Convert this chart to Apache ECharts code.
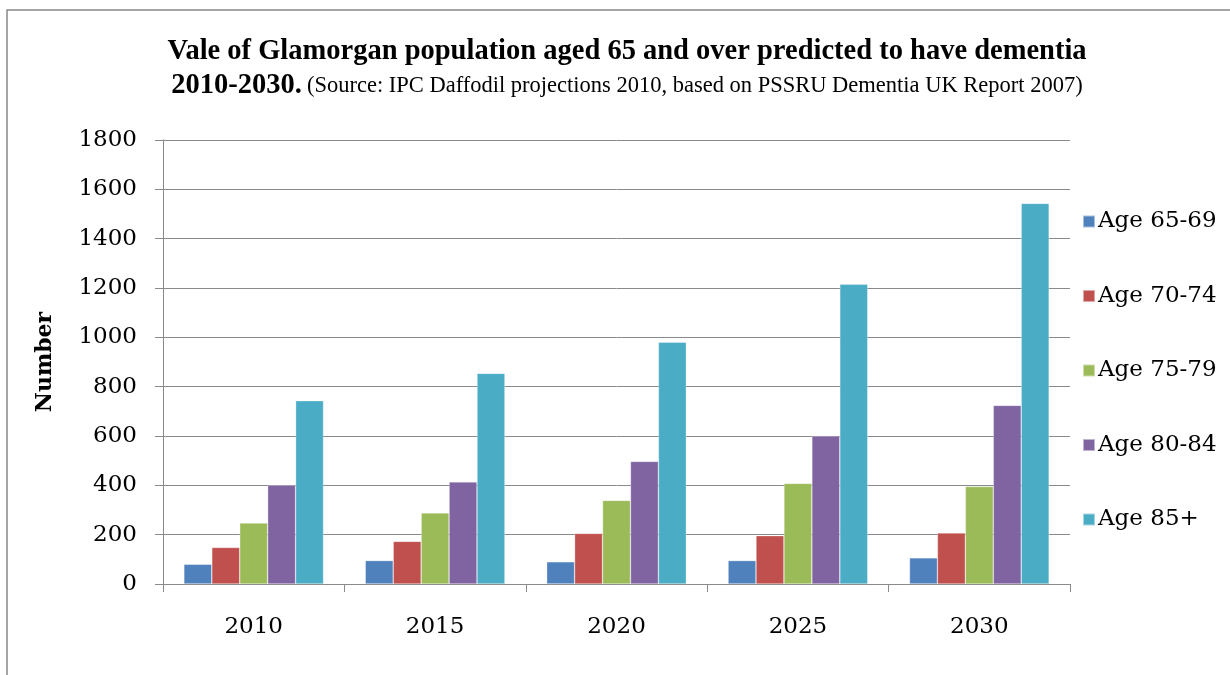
<!DOCTYPE html>
<html>
<head>
<meta charset="utf-8">
<script src="https://cdn.jsdelivr.net/npm/echarts@6/dist/echarts.min.js"></script>
<style>html,body{margin:0;padding:0;background:#fff;}#c{width:1230px;height:675px;}</style>
</head>
<body>
<div id="c"></div>
<script>
var years = ['2010', '2015', '2020', '2025', '2030'];
var seriesNames = ['Age 65-69', 'Age 70-74', 'Age 75-79', 'Age 80-84', 'Age 85+'];
var age6569 = [80, 95, 90, 95, 106];
var age7074 = [148, 173, 205, 196, 207];
var age7579 = [247, 288, 339, 408, 395];
var age8084 = [401, 414, 497, 600, 724];
var age85 = [743, 854, 980, 1215, 1543];
var colors = ['#4F81BD', '#C0504D', '#9BBB59', '#8064A2', '#4BACC6'];
var allValues = [age6569, age7074, age7579, age8084, age85];

var chart = echarts.init(document.getElementById('c'));
var serif = 'DejaVu Serif';
chart.setOption({
  backgroundColor: '#ffffff',
  animation: false,
  title: {
    text: '{a|Vale of Glamorgan population aged 65 and over predicted to have dementia}\n{a|2010-2030.} {b|(Source: IPC Daffodil projections 2010, based on PSSRU Dementia UK Report 2007)}',
    left: 622,
    top: 30,
    textAlign: 'center',
    textStyle: {
      rich: {
        a: { fontFamily: 'Liberation Serif', fontWeight: 'bold', fontSize: 28.5, color: '#000', lineHeight: 34 },
        b: { fontFamily: 'Liberation Serif', fontWeight: 'normal', fontSize: 22.5, color: '#000', lineHeight: 34 }
      }
    }
  },
  graphic: [{
    type: 'rect',
    shape: { x: 7, y: 10, width: 1240, height: 700 },
    style: { fill: 'none', stroke: '#888888', lineWidth: 1.5 },
    silent: true
  }],
  legend: {
    orient: 'vertical',
    left: 1077,
    top: 205,
    itemWidth: 12,
    itemHeight: 12,
    itemGap: 51.5,
    icon: 'rect',
    textStyle: { fontFamily: serif, fontSize: 23, color: '#000', lineHeight: 23, padding: [0, 0, 0, -2] },
    data: seriesNames
  },
  grid: { left: 163, right: 160, top: 140, bottom: 91, containLabel: false },
  xAxis: {
    type: 'category',
    data: years,
    axisLine: { lineStyle: { color: '#8a8a8a', width: 1 } },
    axisTick: { show: true, length: 8, lineStyle: { color: '#8a8a8a' } },
    axisLabel: { fontFamily: serif, fontSize: 23, color: '#000', margin: 32 }
  },
  yAxis: {
    type: 'value',
    min: 0,
    max: 1800,
    interval: 200,
    name: 'Number',
    nameLocation: 'middle',
    nameRotate: 90,
    nameGap: 107,
    nameTextStyle: { fontFamily: serif, fontWeight: 'bold', fontSize: 22, color: '#000' },
    axisLine: { show: true, lineStyle: { color: '#8a8a8a', width: 1 } },
    axisTick: { show: true, length: 8, lineStyle: { color: '#8a8a8a' } },
    splitLine: { lineStyle: { color: '#8a8a8a', width: 1 } },
    axisLabel: { fontFamily: serif, fontSize: 23, color: '#000', margin: 26, formatter: function (v) { return String(v); } }
  },
  series: seriesNames.map(function (n, i) {
    return {
      name: n,
      type: 'bar',
      data: allValues[i],
      barGap: '0%',
      barCategoryGap: '23%',
      itemStyle: { color: colors[i], borderColor: 'rgba(255,255,255,0.5)', borderWidth: 0.6 }
    };
  })
});
</script>
</body>
</html>
